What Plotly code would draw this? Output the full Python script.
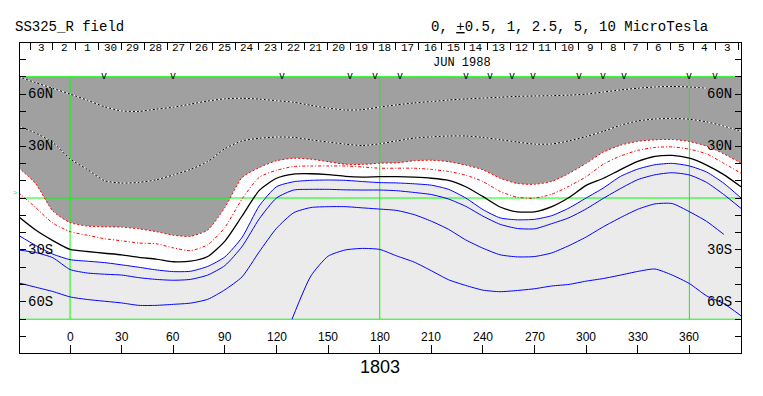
import plotly.graph_objects as go

# ---------------- data ----------------
LON = [-30, -20, -10, 0, 10, 20, 30, 40, 50, 60, 70, 80, 90, 100, 110, 120, 130, 140,
       150, 160, 170, 180, 190, 200, 210, 220, 230, 240, 250, 260, 270, 280, 290, 300,
       310, 320, 330, 340, 350, 360, 370, 380, 390]

# dotted contours inside the dark (positive) region
LAT_A = [70, 66.6, 63.3, 60, 56.5, 52.7, 50.3, 50.0, 51.3, 52.4, 54.2, 56.0, 57.3, 57.6,
         57.1, 56.2, 55.3, 53.5, 51.9, 50.8, 51.0, 52.5, 53.8, 54.9, 55.7, 56.6, 57.2,
         57.7, 58.2, 58.7, 58.9, 59.1, 59.4, 60.0, 61.2, 62.4, 63.4, 64.1, 64.4, 64.1,
         63.4, None, None]
LAT_B = [41.5, 37.5, 32, 22.6, 16.5, 10, 8.6, 9, 10.5, 13.3, 16.5, 21, 28.5, 33, 34.5,
         35.2, 35, 33.6, 32.3, 31.1, 30.3, 31.3, 33, 34.6, 35.3, 35.8, 35.8, 35, 33.7,
         32.3, 31.1, 31.2, 33, 35.5, 38.5, 42, 44.5, 45.6, 46, 45.5, 44, 41.5, 38.5]
# red dotted contours
LAT_R1 = [17.5, 8.3, -7.5, -14.2, -16.2, -16.6, -16.8, -17.8, -19.4, -21.5, -22.1, -18.5,
          -5.5, 11.8, 17.6, 21.5, 23, 22.4, 21, 19.5, 19.4, 20.1, 20.3, 21.5, 21.8, 21,
          19, 16.3, 11.4, 8.4, 7.9, 9.6, 14.2, 20, 26.5, 30.5, 32.7, 33.6, 33.8, 32.6,
          30, 25.5, 20.1]
LAT_R2 = [3.2, -5.5, -14.5, -19.4, -21.5, -23.5, -24.7, -26, -26.4, -28.8, -30.4, -27,
          -17, -0.5, 12, 16, 18.2, 18.5, 18.5, 18.5, 17.9, 17.2, 17.2, 17.2, 16.5, 15.3,
          13.2, 9.5, 3.8, 0.4, -0.1, 2.2, 6.8, 12.3, 19.5, 24.3, 27.5, 29.2, 29.5, 28.2,
          25.5, 20, 14.3]
# neutral line
LAT_K = [-10.8, -18.5, -24.6, -29.7, -30.9, -31.9, -32.8, -34.3, -35.3, -36.8, -36.5,
         -33.8, -24.9, -10.4, 4.4, 11.4, 13.8, 14, 13.5, 12.5, 12.1, 12.3, 12.3, 12,
         11.4, 10.2, 6.5, 0.8, -5.2, -8, -8, -5, 0.3, 7.3, 11.4, 16.4, 21.1, 24, 24.6,
         23, 19, 13.5, 6.5]
# blue (negative) contours
LAT_B1 = [-21.5, -27.4, -32.4, -35.6, -36.5, -37.3, -38.6, -40, -41.5, -42.5, -42.3,
          -39.5, -34, -22.7, -4.5, 6.5, 9.4, 10.2, 10.4, 10.2, 9.5, 8.9, 8.7, 8.2, 7.4,
          5, 0, -6.7, -11.5, -12.6, -12.3, -10.2, -5.8, 0, 5.8, 12.5, 16.7, 19.2, 20,
          18.5, 15, 8.5, 0]
LAT_LIGHT_EDGE = [-30, -30.5, -32.4, -35.6, -36.5, -37.3, -38.6, -40, -41.5, -42.5, -42.3,
                  -39.5, -34, -22.7, -4.5, 6.5, 9.4, 10.2, 10.4, 10.2, 9.5, 8.9, 8.7, 8.2,
                  7.4, 5, 0, -6.7, -11.5, -12.6, -12.3, -10.2, -5.8, 0, 5.8, 12.5, 16.7,
                  19.2, 20, 18.5, 15, 8.5, 0]
LAT_B2 = [-30, -31.5, -34.5, -41.3, -43.3, -44, -44.5, -46, -47, -47.5, -47, -44.5, -39,
          -28, -12, 0, 4.6, 5, 5, 4.7, 4.6, 4.6, 4.2, 3.2, 2, -0.6, -4.8, -10.5, -15.2,
          -17.6, -17.8, -14.8, -11.4, -6.3, -0.2, 5.5, 10.6, 13.4, 14.6, 13.3, 9, 2, -6]
LAT_B3 = [-49, -51.5, -54, -57.1, -58.6, -59.6, -60.6, -62, -62, -61.4, -60.7, -58.5,
          -53, -45.5, -31, -17.5, -8.5, -5.5, -5, -5, -5.7, -6.4, -7.2, -9.6, -13.4,
          -18.1, -24.2, -29, -32.8, -34, -33.8, -31.7, -27.5, -22.5, -16.6, -11.3, -6.5,
          -3.4, -3.2, -7.9, -13.5, -21, None]
LON_B4 = [129, 140, 150, 160, 170, 180, 190, 200, 210, 220, 230, 240, 250, 260, 270,
          280, 290, 300, 310, 320, 330, 340, 350, 360, 370, 380, 390]
LAT_B4 = [-70, -45, -33.6, -30, -29.1, -29.7, -33.5, -37, -42, -47.2, -50.5, -53.2,
          -54.1, -53.4, -52.4, -50.8, -49.9, -48, -46.5, -44.5, -42.4, -41, -44.5,
          -49.4, -56.5, -61, -68]

V_MARK_LONS = [20, 60, 123, 163, 177, 192, 230, 244, 257, 269, 296, 310, 322, 360, 375]
DAY_LABELS = ["3", "2", "1", "30", "29", "28", "27", "26", "25", "24", "23", "22", "21",
              "20", "19", "18", "17", "16", "15", "14", "13", "12", "11", "10", "9", "8",
              "7", "6", "5", "4", "3"]
DAY_FIRST_LON = -16.6
DAY_STEP = 13.29
LON_TICKS = [0, 30, 60, 90, 120, 150, 180, 210, 240, 270, 300, 330, 360]
LAT_TICKS = [-80, -70, -60, -50, -40, -30, -20, -10, 0, 10, 20, 30, 40, 50, 60, 70, 80]
LAT_LABELS = {60: "60N", 30: "30N", -30: "30S", -60: "60S"}
GREEN_LONS = [0, 180, 360]
GREEN_LATS = [-70, 0, 70]
ROTATION = "1803"
ROTATION_LON = 180

X_RANGE = [-29.1, 390]
Y_RANGE = [-89.5, 89.5]
LAT_EDGE = 70

DARK = "#a0a0a0"
LIGHT = "#ebebeb"
GREEN = "#00ff00"
MONO = "Liberation Mono"
SANS = "Liberation Sans"

day_lons = [DAY_FIRST_LON + DAY_STEP * i for i in range(len(DAY_LABELS))]
day_seps = [DAY_FIRST_LON - DAY_STEP / 2 + DAY_STEP * i for i in range(len(DAY_LABELS) + 1)]

fig = go.Figure()
n = len(LON)
common = dict(mode="lines", hoverinfo="skip", showlegend=False)
spl = dict(shape="spline", smoothing=0.6)

# dark gray (positive region)
fig.add_trace(go.Scatter(x=LON, y=[LAT_EDGE] * n, line=dict(width=0), **common))
fig.add_trace(go.Scatter(x=LON, y=LAT_R1, line=dict(width=0, **spl), fill="tonexty",
                         fillcolor=DARK, **common))
# light gray (negative region)
fig.add_trace(go.Scatter(x=LON, y=[-LAT_EDGE] * n, line=dict(width=0), **common))
fig.add_trace(go.Scatter(x=LON, y=LAT_LIGHT_EDGE, line=dict(width=0, **spl), fill="tonexty",
                         fillcolor=LIGHT, **common))

# green reference lines
gx, gy = [], []
for lo in GREEN_LONS:
    gx += [lo, lo, None]
    gy += [-LAT_EDGE, LAT_EDGE, None]
for la in GREEN_LATS:
    gx += [X_RANGE[0], X_RANGE[1], None]
    gy += [la, la, None]
fig.add_trace(go.Scatter(x=gx, y=gy, line=dict(color=GREEN, width=1), **common))

# dotted black/white contours
for lat in (LAT_A, LAT_B):
    fig.add_trace(go.Scatter(x=LON, y=lat, line=dict(color="white", width=1, **spl), **common))
    fig.add_trace(go.Scatter(x=LON, y=lat, line=dict(color="black", width=1, dash="2px,2px", **spl),
                             **common))
# red contours
fig.add_trace(go.Scatter(x=LON, y=LAT_R1, line=dict(color="red", width=1, dash="2px,2px", **spl),
                         **common))
fig.add_trace(go.Scatter(x=LON, y=LAT_R2,
                         line=dict(color="red", width=1, dash="3px,2px,1px,2px", **spl), **common))
# neutral line
fig.add_trace(go.Scatter(x=LON, y=LAT_K, line=dict(color="black", width=1.3, **spl), **common))
# blue contours
for lat in (LAT_B1, LAT_B2, LAT_B3):
    fig.add_trace(go.Scatter(x=LON, y=lat, line=dict(color="blue", width=1, **spl), **common))
fig.add_trace(go.Scatter(x=LON_B4, y=LAT_B4, line=dict(color="blue", width=1, **spl), **common))

# dummy trace for the top (day) axis
fig.add_trace(go.Scatter(x=[X_RANGE[0]], y=[0], xaxis="x2", mode="markers",
                         marker=dict(opacity=0), hoverinfo="skip", showlegend=False))

ann = []
for lo, t in zip(day_lons, DAY_LABELS):
    ann.append(dict(x=lo, y=86.4, xref="x", yref="y", text=t, showarrow=False,
                    font=dict(family=MONO, size=11, color="black")))
ann.append(dict(x=227.7, y=78.0, xref="x", yref="y", text="JUN 1988", showarrow=False,
                font=dict(family=MONO, size=12, color="black")))
for lo in V_MARK_LONS:
    ann.append(dict(x=lo, y=LAT_EDGE, xref="x", yref="y", text="v", showarrow=False,
                    yanchor="bottom", yshift=-7, font=dict(family=MONO, size=10, color="black")))
for la, t in LAT_LABELS.items():
    ann.append(dict(x=0, y=la, xref="paper", yref="y", text=t, showarrow=False,
                    xanchor="left", xshift=6, font=dict(family=MONO, size=14, color="black")))
    ann.append(dict(x=1, y=la, xref="paper", yref="y", text=t, showarrow=False,
                    xanchor="right", xshift=-7, font=dict(family=MONO, size=14, color="black")))
for lo in LON_TICKS:
    ann.append(dict(x=lo, y=-80.5, xref="x", yref="y", text=str(lo), showarrow=False,
                    font=dict(family=SANS, size=12, color="black")))
ann.append(dict(x=-0.01, y=1.052, xref="paper", yref="paper", text="SS325_R field",
                showarrow=False, xanchor="left", yanchor="middle",
                font=dict(family=MONO, size=14, color="black")))
ann.append(dict(x=0.957, y=1.052, xref="paper", yref="paper",
                text="0, <u>+</u>0.5, 1, 2.5, 5, 10 MicroTesla", yanchor="middle",
                showarrow=False, xanchor="right", font=dict(family=MONO, size=14, color="black")))
ann.append(dict(x=ROTATION_LON, y=-0.045, xref="x", yref="paper", text=ROTATION, showarrow=False,
                xanchor="center", yanchor="middle", font=dict(family=SANS, size=18, color="black")))
ann.append(dict(x=0, y=3, xref="paper", yref="y", text="&gt;", showarrow=False,
                xanchor="right", xshift=-1, font=dict(family=SANS, size=7, color=GREEN)))

# the page body adds an 8px offset, so the figure is 8px smaller with 8px less margin
fig.update_layout(
    width=755, height=388, autosize=False,
    margin=dict(l=12, r=22, t=35, b=43, pad=0),
    paper_bgcolor="white", plot_bgcolor="white",
    showlegend=False,
    annotations=ann,
    xaxis=dict(range=X_RANGE, showgrid=False, zeroline=False, showline=True, linecolor="black",
               linewidth=1, mirror=True, ticks="inside", tickvals=LON_TICKS, ticklen=8,
               tickcolor="black", tickwidth=1, showticklabels=False, fixedrange=True),
    xaxis2=dict(range=X_RANGE, overlaying="x", side="top", showgrid=False, zeroline=False,
                showline=False, ticks="inside", tickvals=day_seps, ticklen=7, tickcolor="black",
                tickwidth=1, showticklabels=False, fixedrange=True),
    yaxis=dict(range=Y_RANGE, showgrid=False, zeroline=False, showline=True, linecolor="black",
               linewidth=1, mirror="ticks", ticks="inside", tickvals=LAT_TICKS, ticklen=6,
               tickcolor="black", tickwidth=1, showticklabels=False, fixedrange=True),
)

fig.write_html("out.html")
